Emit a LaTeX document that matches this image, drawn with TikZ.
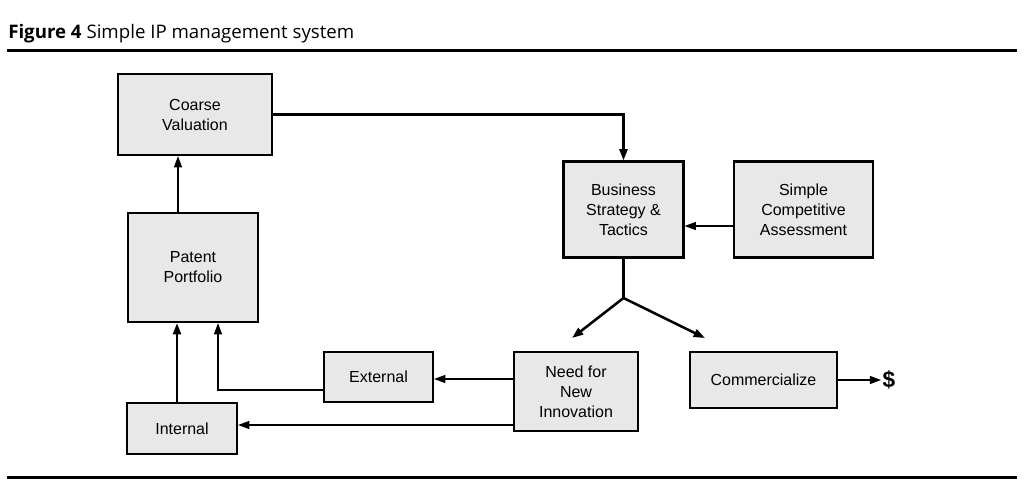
\documentclass[tikz,border=0pt]{standalone}
\usepackage{fontspec}
\setmainfont{Liberation Sans}
\newfontfamily\titlefont{Open Sans}
\usepackage{tikz}
\usetikzlibrary{positioning}
\usetikzlibrary{arrows.meta}
\definecolor{boxgray}{RGB}{232,232,232}

\begin{document}
\begin{tikzpicture}[x=0.75pt,y=-0.75pt]
        \tikzset{block/.style={draw, line width=1.6pt, fill=boxgray, align=center,
            inner sep=2pt, font=\fontsize{12}{15}\selectfont},
            flow/.style={-{Triangle[length=8.5pt,width=6pt]}, line width=1.1pt},
            heavy/.style={flow, line width=1.9pt}}
            \useasboundingbox (0,0) rectangle (1024,487);

            \node[anchor=base west, inner sep=0pt,
            font=\titlefont\fontsize{14}{16}\selectfont] (title) at (8,38)
            {\textbf{Figure 4} Simple IP management system};
            \draw[line width=2.25pt] (7,50) -- (1017,50);
            \draw[line width=2.25pt] (7,477) -- (1017,477);

            \node[block, minimum width=115.5pt, minimum height=60.75pt] (coarse) at (195,114.5) {Coarse\\Valuation};
            \node[block, minimum width=90pt, minimum height=72pt] (business) at (623.5,209.5) {Business\\Strategy \&\\Tactics};
            \node[block, minimum width=104.25pt, minimum height=72pt] (simple) at (803.5,209.5) {Simple\\Competitive\\Assessment};
            \node[block, minimum width=97.5pt, minimum height=81.75pt] (patent) at (193,267.5) {Patent\\Portfolio};
            \node[block, minimum width=93pt, minimum height=59.25pt] (need) at (576,391.5) {Need for\\New\\Innovation};
            \node[block, minimum width=110.25pt, minimum height=42pt] (commercialize) at (763.5,380) {Commercialize};
            \node[block, minimum width=81.75pt, minimum height=37.5pt] (external) at (378.5,377) {External};
            \node[block, minimum width=82.5pt, minimum height=38.25pt] (internal) at (182,428.5) {Internal};
            \node[inner sep=1pt, font=\bfseries\fontsize{17}{17}\selectfont] (dollar) at (889,380) {\$};

            \coordinate (fork) at (623.5,298);
            \coordinate (lefttip) at (572,338);
            \coordinate (righttip) at (705,338);
            \coordinate (valcol) at (178,0);
            \coordinate (intcol) at (177,0);
            \coordinate (extcol) at (218,390);
            \coordinate (extrow) at (0,379);
            \coordinate (introw) at (0,425);
            \coordinate (scarow) at (0,226);

            \draw[heavy] (coarse.east) -| (business.north);
            \draw[flow] (patent.north -| valcol) -- (coarse.south -| valcol);
            \draw[flow] (simple.west |- scarow) -- (business.east |- scarow);

            \draw[line width=1.9pt] (business.south) -- (fork);
            \draw[heavy] (fork) -- (lefttip);
            \draw[heavy] (fork) -- (righttip);

            \draw[flow] (commercialize.east) -- (dollar.west);
            \draw[flow] (need.west |- extrow) -- (external.east |- extrow);
            \draw[flow] (need.west |- introw) -- (internal.east |- introw);
            \draw[flow] (external.west |- extcol) -| (patent.south -| extcol);
            \draw[heavy] (internal.north -| intcol) -- (patent.south -| intcol);
        \end{tikzpicture}
\end{document}
